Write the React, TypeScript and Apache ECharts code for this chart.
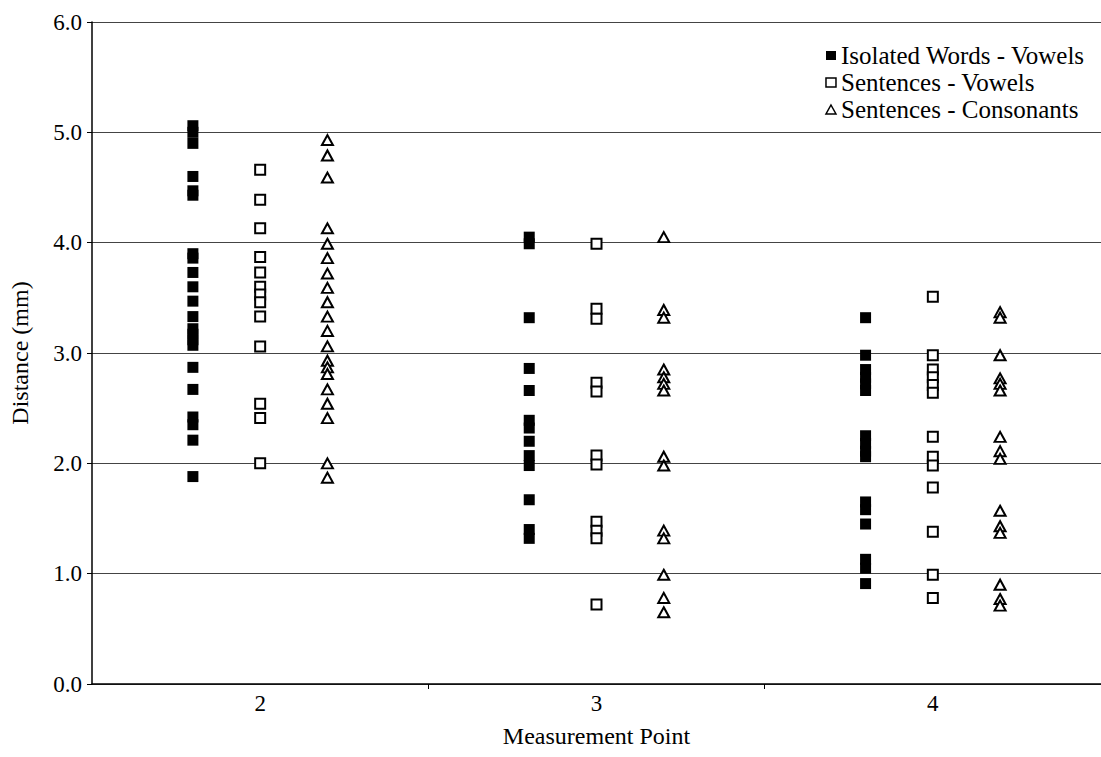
import React, { useEffect, useRef } from "react";
import * as echarts from "echarts";

const measurementPoints = [2, 3, 4];
const seriesNames = ["Isolated Words - Vowels", "Sentences - Vowels", "Sentences - Consonants"];

const isolatedVowels2 = [5.06, 5.0, 4.9, 4.6, 4.47, 4.43, 3.9, 3.86, 3.73, 3.6, 3.47, 3.33, 3.22, 3.17, 3.12, 3.07, 2.87, 2.67, 2.42, 2.35, 2.21, 1.88];
const isolatedVowels3 = [4.05, 3.99, 3.32, 2.86, 2.66, 2.39, 2.32, 2.2, 2.07, 1.98, 1.67, 1.4, 1.32];
const isolatedVowels4 = [3.32, 2.98, 2.85, 2.78, 2.72, 2.66, 2.25, 2.18, 2.11, 2.06, 1.65, 1.58, 1.45, 1.13, 1.05, 0.91];

const sentenceVowels2 = [4.66, 4.39, 4.13, 3.87, 3.73, 3.6, 3.53, 3.46, 3.33, 3.06, 2.54, 2.41, 2.0];
const sentenceVowels3 = [3.99, 3.4, 3.31, 2.73, 2.65, 2.07, 1.99, 1.47, 1.39, 1.32, 0.72];
const sentenceVowels4 = [3.51, 2.98, 2.85, 2.78, 2.71, 2.64, 2.24, 2.06, 1.98, 1.78, 1.38, 0.99, 0.78];

const sentenceConsonants2 = [4.93, 4.79, 4.59, 4.13, 3.99, 3.86, 3.72, 3.59, 3.46, 3.33, 3.2, 3.06, 2.93, 2.87, 2.81, 2.67, 2.54, 2.41, 2.0, 1.87];
const sentenceConsonants3 = [4.05, 3.39, 3.32, 2.85, 2.78, 2.72, 2.66, 2.06, 1.98, 1.39, 1.32, 0.99, 0.78, 0.65];
const sentenceConsonants4 = [3.37, 3.32, 2.98, 2.77, 2.72, 2.66, 2.24, 2.11, 2.04, 1.57, 1.43, 1.37, 0.9, 0.77, 0.71];

const yTickLabels = ["0.0", "1.0", "2.0", "3.0", "4.0", "5.0", "6.0"];

const groups = [
  [isolatedVowels2, isolatedVowels3, isolatedVowels4],
  [sentenceVowels2, sentenceVowels3, sentenceVowels4],
  [sentenceConsonants2, sentenceConsonants3, sentenceConsonants4],
];
const offsets = [-0.2, 0, 0.2];

const FONT = "Liberation Serif";

export default function App() {
  const ref = useRef<HTMLDivElement>(null);
  useEffect(() => {
    if (!ref.current) return;
    const chart = echarts.init(ref.current, null, { renderer: "svg" });
    const build = (gi: number) => {
      const out: number[][] = [];
      groups[gi].forEach((vals, pi) => {
        vals.forEach((v) => out.push([measurementPoints[pi] + offsets[gi], v]));
      });
      return out;
    };
    const styles = [
      { symbol: "rect", symbolSize: 11, itemStyle: { color: "#000", borderWidth: 0, opacity: 1 } },
      { symbol: "rect", symbolSize: 10, itemStyle: { color: "#fff", borderColor: "#000", borderWidth: 2, opacity: 1 } },
      { symbol: "triangle", symbolSize: [11, 10], itemStyle: { color: "#fff", borderColor: "#000", borderWidth: 2, opacity: 1 } },
    ];
    chart.setOption({
      animation: false,
      backgroundColor: "#fff",
      textStyle: { fontFamily: FONT, color: "#000" },
      grid: { left: 90, right: 0, top: 22, bottom: 73, containLabel: false },
      legend: {
        orient: "vertical",
        right: 11,
        top: 38,
        itemGap: 2,
        itemWidth: 10,
        itemHeight: 9,
        itemStyle: { borderWidth: 1.5 },
        textStyle: { fontFamily: FONT, fontSize: 25, color: "#000" },
        data: seriesNames,
      },
      xAxis: {
        type: "value",
        min: 1.5,
        max: 4.5,
        interval: 0.5,
        name: "Measurement Point",
        nameLocation: "middle",
        nameGap: 40,
        nameTextStyle: { fontFamily: FONT, fontSize: 24, color: "#000" },
        axisLine: { show: true, onZero: false, lineStyle: { color: "#000", width: 1.5 } },
        axisTick: { show: true, length: 5, customValues: [2.5, 3.5], lineStyle: { color: "#000" } },
        axisLabel: {
          customValues: measurementPoints,
          margin: 8,
          fontFamily: FONT,
          fontSize: 23,
          color: "#000",
          formatter: (v: number) => String(v),
        },
        splitLine: { show: false },
      },
      yAxis: {
        type: "value",
        min: 0,
        max: 6,
        interval: 1,
        name: "Distance (mm)",
        nameLocation: "middle",
        nameGap: 60,
        nameTextStyle: { fontFamily: FONT, fontSize: 24, color: "#000" },
        axisLine: { show: true, lineStyle: { color: "#000", width: 1.5 } },
        axisTick: { show: true, length: 5, lineStyle: { color: "#000" } },
        axisLabel: {
          margin: 10,
          fontFamily: FONT,
          fontSize: 23,
          color: "#000",
          formatter: (v: number) => yTickLabels[Math.round(v)] ?? "",
        },
        splitLine: { show: true, lineStyle: { color: "#444", width: 1 } },
      },
      series: seriesNames.map((name, gi) => ({
        name,
        type: "scatter",
        data: build(gi),
        ...styles[gi],
      })),
    });
    return () => chart.dispose();
  }, []);
  return (
    <div
      ref={ref}
      style={{ position: "fixed", left: 0, top: 0, width: 1101, height: 757, background: "#fff" }}
    />
  );
}
